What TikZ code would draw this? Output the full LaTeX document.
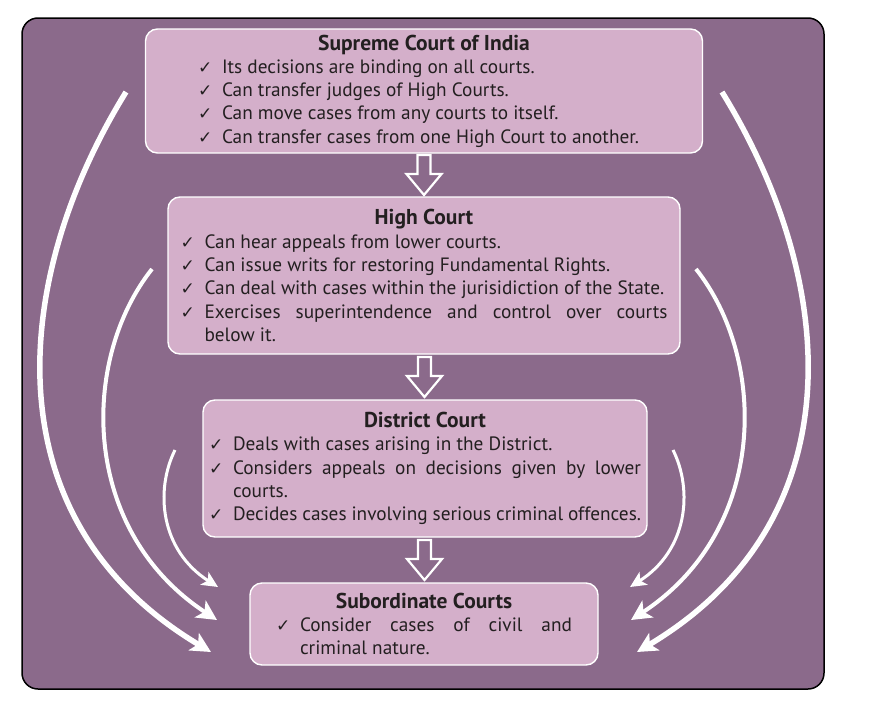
\documentclass[tikz,border=0pt]{standalone}
\usepackage{fontspec}
\setmainfont{PT Sans}
\newfontfamily\symfont{DejaVu Sans}
\usetikzlibrary{arrows.meta,calc}

\definecolor{courtbg}{RGB}{139,106,139}
\definecolor{courtbox}{RGB}{212,175,202}
\definecolor{ink}{RGB}{35,31,32}

\newcommand{\ttl}[1]{{\centering\fontsize{21.5pt}{23.3pt}\selectfont\bfseries #1\par}}
\newcommand{\itm}[1]{\par\noindent\hangindent=24pt\hangafter=1%
  \makebox[24pt][l]{\symfont\fontsize{17pt}{17pt}\selectfont ✓}#1\par}

\begin{document}
\begin{tikzpicture}[
  x=1pt, y=-1pt,
  font=\fontsize{19.3pt}{23.3pt}\selectfont,
  court/.style={
    draw=white, line width=1.4pt, rounded corners=12pt,
    fill=courtbox, text=ink, inner sep=0pt, align=justify,
  },
  sweep/.style={draw=white, -{Stealth[length=20pt,width=20pt,inset=5pt]}},
  hollow/.pic={
    \draw[white, line width=2.2pt, fill=courtbg]
      (-6.5,-20) -- (6.5,-20) -- (6.5,-1) -- (17.5,-1) -- (0,20)
      -- (-17.5,-1) -- (-6.5,-1) -- cycle;
  },
]

\useasboundingbox (0,0) rectangle (885,704);
\draw[black, line width=1.5pt, fill=courtbg, rounded corners=16pt] (22,18) rectangle (824,689);

\node[court, minimum width=557pt, minimum height=124pt, text width=452pt] (sc) at (424,91) {%
  \ttl{Supreme Court of India}
  \itm{Its decisions are binding on all courts.}
  \itm{Can transfer judges of High Courts.}
  \itm{Can move cases from any courts to itself.}
  \itm{Can transfer cases from one High Court to another.}};
\node[court, minimum width=512pt, minimum height=157pt, text width=487pt] (hc) at (424,275.5) {%
  \ttl{High Court}
  \itm{Can hear appeals from lower courts.}
  \itm{Can issue writs for restoring Fundamental Rights.}
  \itm{Can deal with cases within the jurisidiction of the State.}
  \itm{Exercises superintendence and control over courts\linebreak below it.}};
\node[court, minimum width=444pt, minimum height=137pt, text width=432pt] (dc) at (425,468.5) {%
  \ttl{District Court}
  \itm{Deals with cases arising in the District.}
  \itm{Considers appeals on decisions given by lower\linebreak courts.}
  \itm{Decides cases involving serious criminal offences.}};
\node[court, minimum width=348pt, minimum height=82pt, text width=296pt] (sub) at (424,624) {%
  \ttl{Subordinate Courts}
  \itm{Consider cases of civil and\linebreak criminal nature.}};

\pic at ($(sc.south)!.5!(hc.north)$) {hollow};
\pic at ($(hc.south)!.5!(dc.north)$) {hollow};
\pic at ($(dc.south)!.5!(sub.north)$) {hollow};

% sweeping arrows down to the subordinate courts
\coordinate (outL) at (126,92);
\coordinate (midL) at (152,269);
\coordinate (innL) at (175,450);
\coordinate (outR) at (722,92);
\coordinate (midR) at (696,269);
\coordinate (innR) at (673,450);
\coordinate (outLe) at (211,652);
\coordinate (midLe) at (217,620);
\coordinate (innLe) at (218,587);
\coordinate (outRe) at (637,652);
\coordinate (midRe) at (631,620);
\coordinate (innRe) at (630,587);

\draw[sweep, line width=5.5pt] (outL) .. controls (10,280) and (-10,520) .. (outLe);
\draw[sweep, line width=4pt] (midL) .. controls (80,360) and (80,530) .. (midLe);
\draw[sweep, line width=3pt, -{Stealth[length=16pt,width=15pt,inset=4pt]}] (innL) .. controls (155,490) and (160,550) .. (innLe);
\draw[sweep, line width=5.5pt] (outR) .. controls (838,280) and (858,520) .. (outRe);
\draw[sweep, line width=4pt] (midR) .. controls (768,360) and (768,530) .. (midRe);
\draw[sweep, line width=3pt, -{Stealth[length=16pt,width=15pt,inset=4pt]}] (innR) .. controls (693,490) and (688,550) .. (innRe);

\end{tikzpicture}
\end{document}
